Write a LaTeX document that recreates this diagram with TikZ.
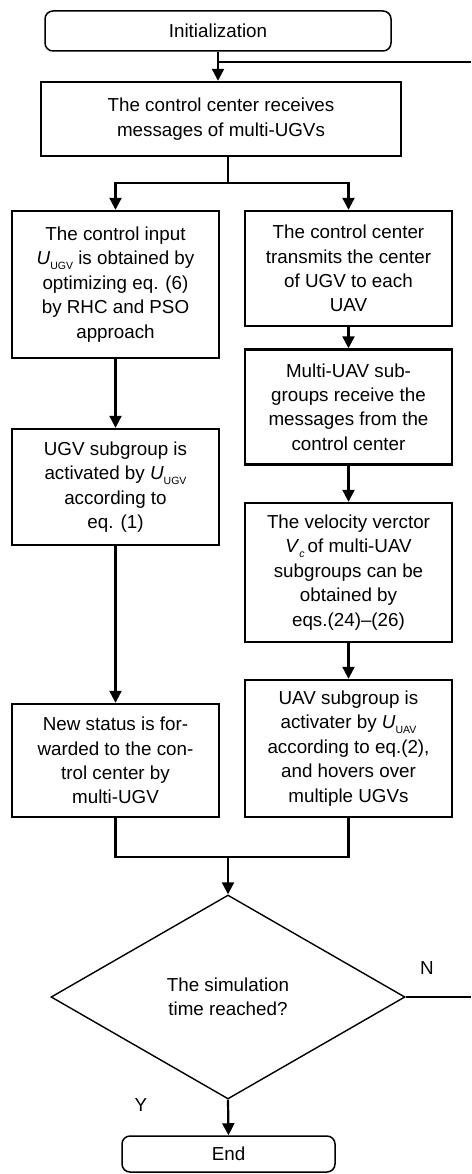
\documentclass[tikz,border=0pt]{standalone}
\usepackage{fontspec}
\setmainfont{Liberation Sans}
\usetikzlibrary{shapes.geometric,arrows.meta}
\newcommand{\mysubs}[1]{\raisebox{-0.45ex}{\fontsize{10.5}{11}\selectfont #1}}
\newcommand{\Uvar}[1]{\textit{U}\mysubs{#1}}
\begin{document}
\begin{tikzpicture}[x=1pt,y=-1pt,
  font=\fontsize{18.8}{24.4}\selectfont,
  box/.style={draw, line width=2.4pt, align=center, inner sep=0pt, minimum width=207pt},
  rbox/.style={draw, line width=1.5pt, rounded corners=8pt, align=center, inner sep=0pt},
  arr/.style={line width=2.2pt, -{Triangle[width=12pt,length=12pt]}},
  ln/.style={line width=2.2pt}]
\fill[white] (0,0) rectangle (471,1174);
\useasboundingbox (0,0) rectangle (471,1174);
\node[rbox, minimum width=346pt, minimum height=40pt] (init) at (218,31) {Initialization};
\node[box, minimum width=360pt, minimum height=74pt] (main) at (221,119) {The control center receives\\messages of multi-UGVs};
\node[box, minimum height=147pt] (L1) at (115.5,284.5) {The control input\\\Uvar{UGV} is obtained by\\optimizing eq. (6)\\by RHC and PSO\\approach};
\node[box, minimum height=116pt] (L2) at (115.5,487) {UGV subgroup is\\activated by \Uvar{UGV}\\according to\\eq. (1)};
\node[box, minimum height=113pt] (L3) at (115.5,760.5) {New status is for-\\warded to the con-\\trol center by\\multi-UGV};
\node[box, minimum height=115pt] (R1) at (348.5,268.5) {The control center\\transmits the center\\of UGV to each\\UAV};
\node[box, minimum height=115pt] (R2) at (348.5,407) {Multi-UAV sub-\\groups receive the\\messages from the\\control center};
\node[box, minimum height=139pt] (R3) at (348.5,572.5) {The velocity verctor\\\textit{V}\mysubs{\textit{c}}\,of multi-UAV\\subgroups can be\\obtained by\\eqs.(24)--(26)};
\node[box, minimum height=137pt] (R4) at (348.5,748.5) {UAV subgroup is\\activater by \Uvar{UAV}\\according to eq.(2),\\and hovers over\\multiple UGVs};
\node[draw, diamond, line width=1.4pt, minimum width=354pt, minimum height=204pt, inner sep=0pt, align=center] (dia) at (228,997) {The simulation\\time reached?};
\node[rbox, minimum width=213pt, minimum height=36pt] (endn) at (228.5,1154) {End};
\node (N) at (427,968) {N};
\node (Y) at (141,1105) {Y};
\coordinate (split) at (228,183);
\coordinate (merge) at (228,857);
\coordinate (edgeT) at (471,62);
\coordinate (edgeN) at (471,997);
\draw[arr] (init.south) -- (init.south |- main.north);
\draw[ln] (edgeT) -- (init.south |- edgeT);
\draw[ln] (split |- main.south) -- (split);
\draw[arr] (split) -| (L1.north);
\draw[arr] (split) -| (R1.north);
\draw[arr] (L1) -- (L2);
\draw[arr] (L2) -- (L3);
\draw[arr] (R1) -- (R2);
\draw[arr] (R2) -- (R3);
\draw[arr] (R3) -- (R4);
\draw[ln] (L3.south) |- (merge);
\draw[ln] (R4.south) |- (merge);
\draw[arr] (merge) -- (dia.north);
\draw[arr] (dia.south) -- (endn.north);
\draw[ln] (dia.east) -- (edgeN);
\end{tikzpicture}
\end{document}
